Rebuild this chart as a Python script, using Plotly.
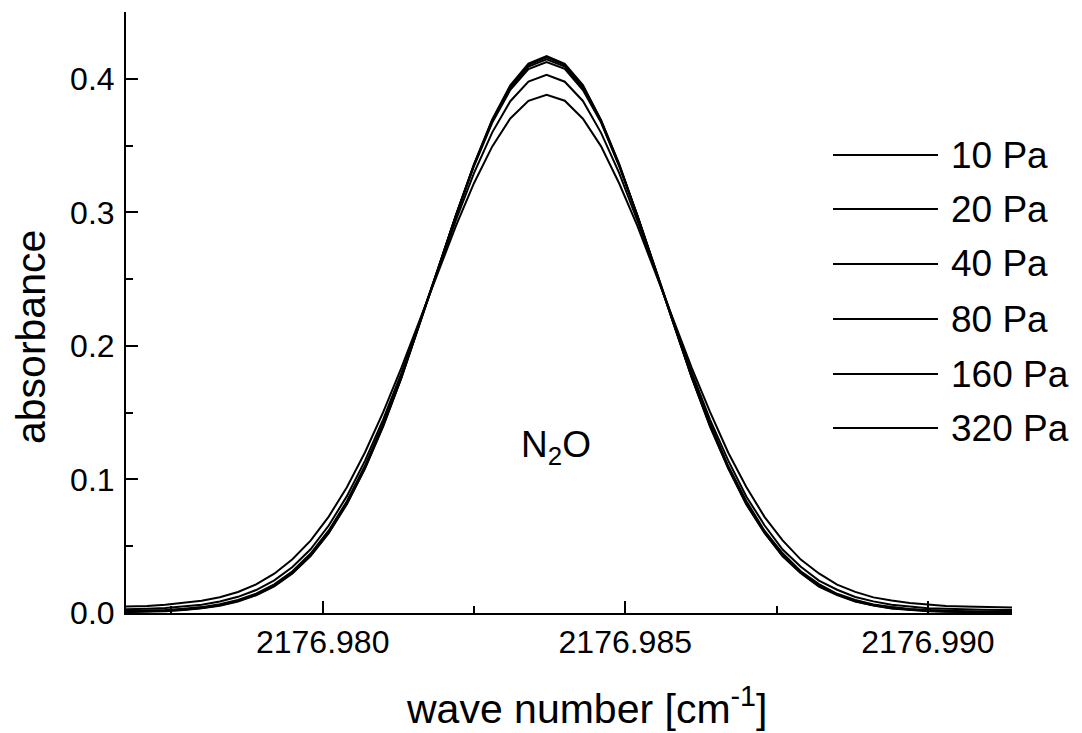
import plotly.graph_objects as go

# wave number grid [cm^-1]
wavenumber = [round(2176.9765 + 0.0003 * j, 4) for j in range(51)]

labels = ["10 Pa", "20 Pa", "40 Pa", "80 Pa", "160 Pa", "320 Pa"]

abs_10 = [0.0004, 0.0006, 0.0009, 0.0014, 0.0022, 0.0035, 0.0055, 0.0086, 0.0133, 0.0200,
          0.0296, 0.0426, 0.0597, 0.0815, 0.1082, 0.1398, 0.1758, 0.2153, 0.2565, 0.2976,
          0.3360, 0.3693, 0.3951, 0.4114, 0.4170, 0.4112, 0.3953, 0.3690, 0.3362, 0.2972,
          0.2567, 0.2150, 0.1760, 0.1395, 0.1084, 0.0812, 0.0599, 0.0424, 0.0298, 0.0198,
          0.0134, 0.0085, 0.0056, 0.0034, 0.0023, 0.0013, 0.0010, 0.0006, 0.0004, 0.0003, 0.0002]
abs_20 = [0.0006, 0.0008, 0.0011, 0.0016, 0.0024, 0.0037, 0.0057, 0.0089, 0.0136, 0.0204,
          0.0300, 0.0430, 0.0602, 0.0820, 0.1087, 0.1403, 0.1762, 0.2156, 0.2566, 0.2975,
          0.3357, 0.3688, 0.3943, 0.4105, 0.4160, 0.4104, 0.3945, 0.3686, 0.3358, 0.2973,
          0.2568, 0.2154, 0.1763, 0.1401, 0.1089, 0.0818, 0.0603, 0.0428, 0.0301, 0.0203,
          0.0137, 0.0088, 0.0058, 0.0036, 0.0025, 0.0016, 0.0011, 0.0008, 0.0006, 0.0005, 0.0004]
abs_40 = [0.0008, 0.0010, 0.0013, 0.0019, 0.0027, 0.0040, 0.0060, 0.0092, 0.0140, 0.0209,
          0.0306, 0.0437, 0.0609, 0.0827, 0.1094, 0.1410, 0.1768, 0.2160, 0.2568, 0.2974,
          0.3352, 0.3680, 0.3932, 0.4091, 0.4145, 0.4092, 0.3930, 0.3681, 0.3350, 0.2975,
          0.2566, 0.2162, 0.1766, 0.1412, 0.1092, 0.0829, 0.0607, 0.0439, 0.0305, 0.0210,
          0.0139, 0.0093, 0.0059, 0.0041, 0.0026, 0.0019, 0.0013, 0.0010, 0.0008, 0.0007, 0.0006]
abs_80 = [0.0011, 0.0013, 0.0016, 0.0022, 0.0031, 0.0044, 0.0065, 0.0097, 0.0145, 0.0215,
          0.0313, 0.0445, 0.0618, 0.0837, 0.1104, 0.1420, 0.1777, 0.2167, 0.2572, 0.2974,
          0.3347, 0.3670, 0.3917, 0.4073, 0.4125, 0.4074, 0.3915, 0.3672, 0.3345, 0.2976,
          0.2570, 0.2169, 0.1775, 0.1422, 0.1102, 0.0839, 0.0616, 0.0447, 0.0312, 0.0216,
          0.0144, 0.0098, 0.0064, 0.0045, 0.0030, 0.0023, 0.0016, 0.0013, 0.0011, 0.0010, 0.0009]
abs_160 = [0.0025, 0.0027, 0.0031, 0.0037, 0.0048, 0.0062, 0.0086, 0.0121, 0.0172, 0.0245,
           0.0344, 0.0477, 0.0655, 0.0875, 0.1141, 0.1450, 0.1797, 0.2171, 0.2558, 0.2939,
           0.3293, 0.3597, 0.3832, 0.3979, 0.4030, 0.3978, 0.3834, 0.3595, 0.3294, 0.2937,
           0.2560, 0.2169, 0.1799, 0.1448, 0.1143, 0.0873, 0.0657, 0.0475, 0.0346, 0.0243,
           0.0174, 0.0120, 0.0087, 0.0061, 0.0049, 0.0036, 0.0032, 0.0026, 0.0025, 0.0023, 0.0023]
abs_320 = [0.0045, 0.0048, 0.0053, 0.0062, 0.0076, 0.0092, 0.0118, 0.0157, 0.0214, 0.0294,
           0.0402, 0.0542, 0.0722, 0.0942, 0.1204, 0.1504, 0.1835, 0.2187, 0.2546, 0.2896,
           0.3218, 0.3492, 0.3703, 0.3835, 0.3880, 0.3836, 0.3701, 0.3494, 0.3216, 0.2898,
           0.2544, 0.2189, 0.1833, 0.1506, 0.1202, 0.0944, 0.0720, 0.0544, 0.0400, 0.0296,
           0.0212, 0.0158, 0.0117, 0.0093, 0.0075, 0.0063, 0.0052, 0.0049, 0.0044, 0.0042, 0.0040]

series = [abs_10, abs_20, abs_40, abs_80, abs_160, abs_320]

x_range = [2176.97675, 2176.99139]
y_range = [0.0, 0.45]
x_ticks = [2176.980, 2176.985, 2176.990]
y_ticks = [0.0, 0.1, 0.2, 0.3, 0.4]

FONT = "Arial, 'Liberation Sans', sans-serif"

fig = go.Figure()
for name, ys in zip(labels, series):
    fig.add_trace(go.Scatter(x=wavenumber, y=ys, mode="lines", name=name,
                             line=dict(color="black", width=2), showlegend=False))

# page offset of the figure inside the browser (body margin)
OFF = 8
W, H = 1082 - OFF, 733 - OFF
# plot area in window pixels: x 126..1012, y 12.5..612.7
L, R, T, B = 126 - OFF, 1082 - 1012, 12 - OFF, 733 - 613
pw, ph = W - L - R, H - T - B

def px(x):
    # window pixel -> paper x
    return (x - OFF - L) / pw

def py(y):
    # window pixel -> paper y
    return (H - B - (y - OFF)) / ph

# manual legend (long line samples)
legend_rows = [155, 209, 264, 319, 374, 428]
for lab, yy in zip(labels, legend_rows):
    fig.add_shape(type="line", xref="paper", yref="paper",
                  x0=px(833), x1=px(938), y0=py(yy), y1=py(yy),
                  line=dict(color="black", width=2))
    fig.add_annotation(xref="paper", yref="paper", x=px(949), y=py(yy),
                       text=lab, showarrow=False, xanchor="left", yanchor="middle",
                       font=dict(family=FONT, size=37, color="black"))

fig.add_annotation(x=2176.98385, y=0.124, xref="x", yref="y",
                   text="N<sub>2</sub>O", showarrow=False,
                   font=dict(family=FONT, size=37, color="black"))

fig.add_annotation(xref="paper", yref="paper", x=px(586), y=py(706),
                   text="wave number [cm<sup>-1</sup>]", showarrow=False,
                   xanchor="center", yanchor="middle",
                   font=dict(family=FONT, size=41, color="black"))
fig.add_annotation(xref="paper", yref="paper", x=px(31), y=py(337),
                   text="absorbance", showarrow=False, textangle=-90,
                   xanchor="center", yanchor="middle",
                   font=dict(family=FONT, size=41, color="black"))

axis_common = dict(showgrid=False, zeroline=False, showline=True, linecolor="black",
                   linewidth=2, ticks="inside", ticklen=12, tickwidth=2, tickcolor="black",
                   mirror=False, automargin=False,
                   tickfont=dict(family=FONT, size=32, color="black"))

fig.update_xaxes(range=x_range, tickvals=x_ticks, tickformat=".3f",
                 minor=dict(dtick=0.0025, tick0=2176.9775, ticks="inside", ticklen=7,
                            tickwidth=2, tickcolor="black", showgrid=False),
                 ticklabelstandoff=0,
                 **axis_common)
fig.update_yaxes(range=y_range, tickvals=y_ticks, tickformat=".1f",
                 minor=dict(dtick=0.05, tick0=0.05, ticks="inside", ticklen=7,
                            tickwidth=2, tickcolor="black", showgrid=False),
                 ticklabelstandoff=3,
                 **axis_common)

fig.update_layout(width=W, height=H, margin=dict(l=L, r=R, t=T, b=B),
                  plot_bgcolor="white", paper_bgcolor="white",
                  font=dict(family=FONT, color="black"), showlegend=False)

fig.write_html("out.html")
